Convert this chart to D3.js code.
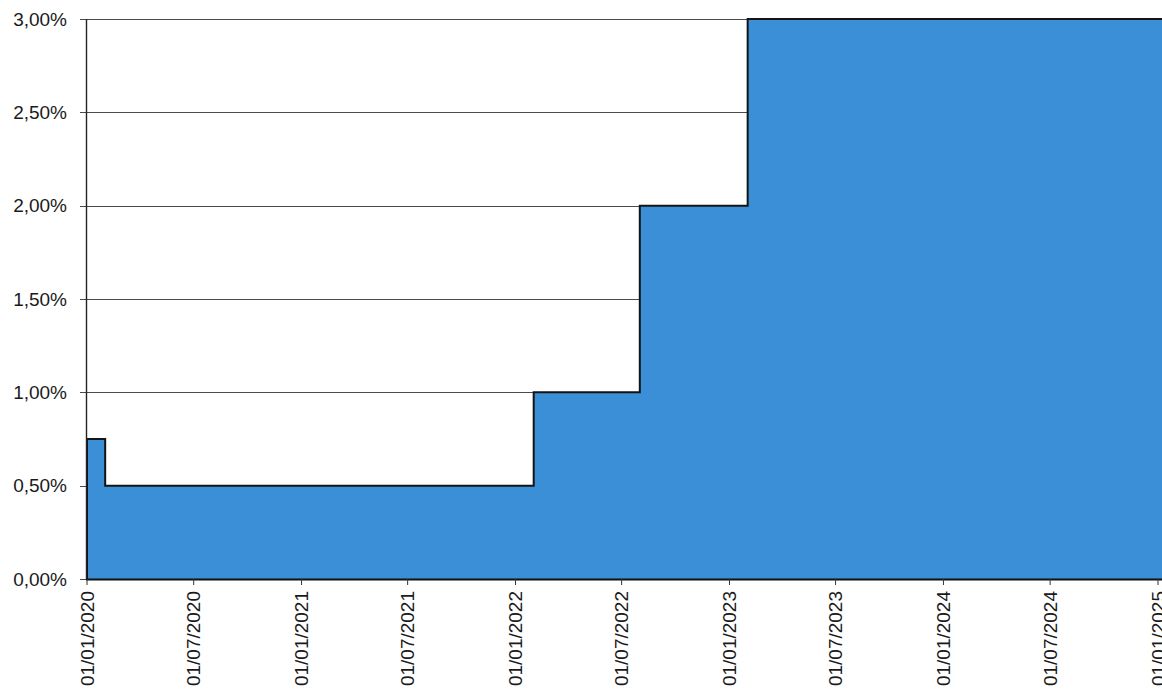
<!DOCTYPE html>
<html>
<head>
<meta charset="utf-8">
<script src="https://cdn.jsdelivr.net/npm/d3@7"></script>
<style>
  html, body { margin: 0; padding: 0; background: #ffffff; }
  svg { display: block; }
  text { font-family: "Liberation Sans", Arial, sans-serif; fill: #1a1a1a; }
</style>
</head>
<body>
<svg id="chart" width="1162" height="693"></svg>
<script>
// Rate change dates and the rate (in %) valid from each date onwards
const changeDates = ["2020-01-01", "2020-02-01", "2022-02-01", "2022-08-01", "2023-02-01", "2025-01-01"];
const rateValues  = [0.75, 0.50, 1.00, 2.00, 3.00, 3.00];

// Axis ticks
const yTickValues = [0, 0.5, 1.0, 1.5, 2.0, 2.5, 3.0];
const xTickDates  = ["2020-01-01", "2020-07-01", "2021-01-01", "2021-07-01", "2022-01-01",
                     "2022-07-01", "2023-01-01", "2023-07-01", "2024-01-01", "2024-07-01", "2025-01-01"];

const parse = d3.utcParse("%Y-%m-%d");
const data = changeDates.map((d, i) => ({ date: parse(d), rate: rateValues[i] }));

const svg = d3.select("#chart");
const plotLeft = 86, plotRight = 1160, plotTop = 19, plotBottom = 579;

const x = d3.scaleUtc()
  .domain([parse("2020-01-01"), parse("2025-01-01")])
  .range([plotLeft + 1, 1158]);
const y = d3.scaleLinear().domain([0, 3]).range([plotBottom, plotTop]);

const it = d3.formatLocale({ decimal: ",", thousands: ".", grouping: [3], currency: ["", "€"] });
const pct = v => it.format(".2f")(v) + "%";
const dateFmt = d3.utcFormat("%d/%m/%Y");

// horizontal gridlines with small ticks left of the axis
svg.append("g")
  .selectAll("line")
  .data(yTickValues)
  .join("line")
  .attr("x1", plotLeft - 6)
  .attr("x2", plotRight + 2)
  .attr("y1", d => Math.round(y(d)) + 0.5)
  .attr("y2", d => Math.round(y(d)) + 0.5)
  .attr("stroke", "#4a4a4a")
  .attr("stroke-width", 1.2);

// stepped area
const area = d3.area()
  .curve(d3.curveStepAfter)
  .x(d => x(d.date))
  .y0(y(0))
  .y1(d => y(d.rate));

const lastDate = data[data.length - 1].date;
const areaData = data.concat([{ date: d3.utcDay.offset(lastDate, 10), rate: rateValues[rateValues.length - 1] }]);

svg.append("path")
  .datum(areaData)
  .attr("d", area)
  .attr("fill", "#3b8fd7")
  .attr("stroke", "none");

// outline of the step line
const line = d3.line()
  .curve(d3.curveStepAfter)
  .x(d => x(d.date))
  .y(d => y(d.rate));

svg.append("path")
  .datum(areaData)
  .attr("d", line)
  .attr("fill", "none")
  .attr("stroke", "#141414")
  .attr("stroke-width", 2);

// left edge of the filled area
svg.append("line")
  .attr("x1", x(data[0].date)).attr("x2", x(data[0].date))
  .attr("y1", y(rateValues[0])).attr("y2", y(0))
  .attr("stroke", "#141414").attr("stroke-width", 2);

// y axis line
svg.append("line")
  .attr("x1", plotLeft + 0.5).attr("x2", plotLeft + 0.5)
  .attr("y1", plotTop).attr("y2", plotBottom + 1)
  .attr("stroke", "#222").attr("stroke-width", 1.4);

// x axis line
svg.append("line")
  .attr("x1", plotLeft).attr("x2", plotRight + 2)
  .attr("y1", plotBottom + 0.5).attr("y2", plotBottom + 0.5)
  .attr("stroke", "#111").attr("stroke-width", 2);

// y labels
svg.append("g")
  .selectAll("text")
  .data(yTickValues)
  .join("text")
  .attr("x", 67)
  .attr("y", d => y(d))
  .attr("dy", "0.35em")
  .attr("text-anchor", "end")
  .attr("font-size", 19)
  .text(pct);

// x ticks and rotated labels
const xt = svg.append("g")
  .selectAll("g")
  .data(xTickDates.map(parse))
  .join("g")
  .attr("transform", d => `translate(${x(d)},0)`);

xt.append("line")
  .attr("y1", plotBottom).attr("y2", plotBottom + 6)
  .attr("stroke", "#333").attr("stroke-width", 1);

xt.append("text")
  .attr("transform", `translate(0,${plotBottom + 12}) rotate(-90)`)
  .attr("dy", "0.35em")
  .attr("text-anchor", "end")
  .attr("font-size", 19)
  .text(dateFmt);
</script>
</body>
</html>
